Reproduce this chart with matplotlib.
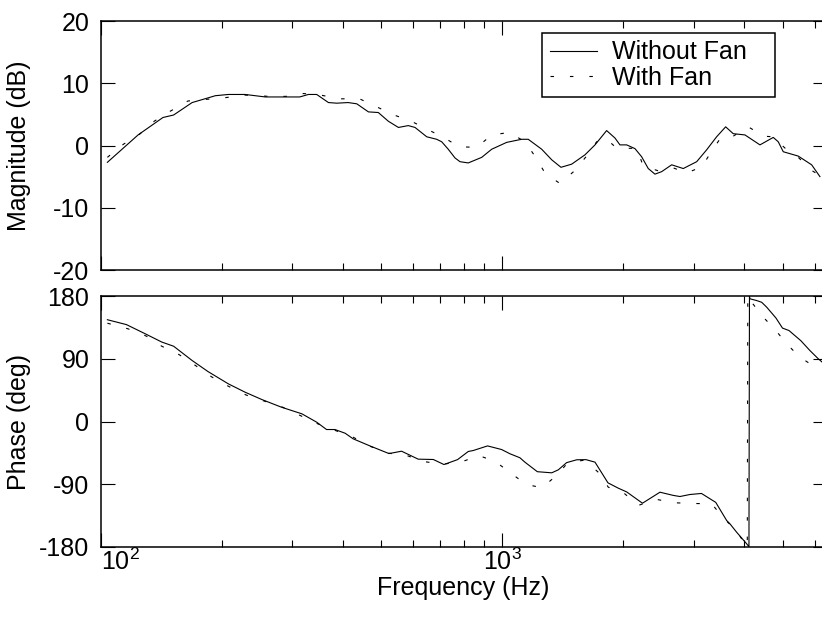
import numpy as np
import matplotlib.pyplot as plt
from matplotlib.ticker import LogLocator, NullFormatter

plt.rcParams["font.family"] = ["Liberation Sans", "DejaVu Sans"]
plt.rcParams["mathtext.fontset"] = "custom"
plt.rcParams["mathtext.rm"] = "Liberation Sans"
plt.rcParams["axes.unicode_minus"] = False
plt.rcParams["lines.scale_dashes"] = False

# --- magnitude, without fan (Hz, dB)
freq_mag_nofan = [104, 124, 143, 152, 169, 184, 193, 208, 229, 257, 280, 313, 329, 345,
                  369, 387, 413, 434, 464, 491, 520, 551, 583, 606, 648, 686, 706, 733,
                  762, 784, 822, 888, 940, 1024, 1116, 1159, 1252, 1326, 1398, 1486,
                  1604, 1699, 1816, 1905, 1960, 2037, 2136, 2219, 2305, 2395, 2489,
                  2636, 2817, 3042, 3220, 3410, 3591, 3751, 4011, 4371, 4717, 4854,
                  4995, 5443, 5877, 6163]
mag_nofan = [-2.7, 1.7, 4.5, 4.9, 6.9, 7.6, 8.0, 8.2, 8.2, 7.8, 7.8, 7.8, 8.2, 8.2,
             6.9, 6.8, 6.9, 6.7, 5.4, 5.3, 3.9, 2.9, 3.2, 2.9, 1.4, 1.0, 0.6, -0.6,
             -2.0, -2.6, -2.8, -1.9, -0.6, 0.5, 1.0, 1.0, -0.6, -2.3, -3.5, -3.0,
             -1.5, 0.1, 2.4, 1.2, 0.1, 0.1, -0.5, -1.8, -3.7, -4.6, -4.2,
             -3.1, -3.7, -2.6, -0.7, 1.4, 3.0, 1.9, 1.7, 0.1, 1.3, 0.6,
             -1.0, -1.7, -3.1, -5.0]

# --- magnitude, with fan
freq_mag_fan = [104, 114, 125, 136, 149, 165, 205, 230, 270, 290, 320, 356, 396, 441,
                487, 537, 591, 650, 716, 780, 863, 940, 1042, 1140, 1208, 1278, 1390,
                1512, 1616, 1715, 1809, 1930, 2037, 2157, 2240, 2451, 2660, 2872,
                3130, 3301, 3496, 3751, 4088, 4467, 4704, 5052, 5443, 5877, 6223]
mag_fan = [-1.9, 0.2, 1.8, 3.9, 5.5, 7.15, 7.7, 8.1, 7.85, 7.9, 8.35, 8.05, 7.5, 7.5,
           6.2, 4.9, 3.95, 2.6, 1.25, -0.2, -0.3, 1.7, 2.1, 0.55, -1.85, -4.5, -6.1,
           -4.05, -1.75, 0.6, 1.1, -0.5, -0.45, -0.45, -3.3, -4.1, -3.6, -4.4,
           -3.45, -1.1, 1.3, 1.5, 3.0, 1.5, 1.4, -0.45, -1.9, -4.0, -5.0]

# --- phase, without fan (Hz, deg)
freq_ph_nofan = [104, 116, 129, 142, 152, 169, 185, 208, 229, 252, 282, 317, 345, 365,
                 383, 406, 425, 468, 522, 561, 617, 673, 715, 773, 822, 846, 918, 995,
                 1044, 1105, 1137, 1221, 1326, 1377, 1444, 1530, 1613, 1699, 1830,
                 1941, 2037, 2230, 2465, 2660, 2764, 2927, 3126, 3393, 3612, 3680,
                 3823, 4050, 4104, 4116, 4128, 4290, 4415, 4543, 4790, 4973, 5162,
                 5523, 5819, 6104, 6233]
ph_nofan = [146, 139, 126, 114, 108, 87.5, 71.7, 54, 42, 31.5, 20.5, 11, -1, -11.5,
            -11.5, -16.8, -24.8, -35, -46, -42.6, -54, -54.5, -61.7, -54.7, -43, -41.6,
            -35, -40.2, -46.3, -52, -58.3, -72, -73.6, -69.3, -59, -54.9, -54.7, -58.3,
            -88, -95.6, -101, -117.2, -101.4, -106, -107.6, -104.7, -103.2, -116, -142,
            -146.7, -158.7, -175.4, -179.5, 179.5, 176, 173.5, 171, 164, 148.5, 134,
            130.5, 116, 101.8, 90, 85.5]

# --- phase, with fan
freq_ph_fan = [104, 117, 130, 142, 157, 173, 189, 208, 230, 284, 347, 425, 470, 520,
               578, 637, 712, 795, 873, 961, 1047, 1146, 1254, 1366, 1458, 1604, 1748,
               1833, 2006, 2177, 2409, 2660, 2983, 3314, 3542, 3806, 4011, 4065, 4077,
               4168, 4455, 4790, 5073, 5466, 5933, 6233]
ph_fan = [141, 133, 122.5, 108, 95.8, 79.6, 64, 50.6, 38.1, 20.5, -3.3, -22.5, -35.9,
          -45.4, -48.8, -57.5, -61.2, -57.5, -48.8, -57.5, -73.8, -90.3, -95, -77, -58.3,
          -55.5, -75, -94.2, -102.8, -120.4, -111.5, -116.5, -117.6, -118, -138, -156,
          -175.2, -179.5, 179.5, 171, 149.6, 130.5, 112.5, 93.4, 79.6, 78]

mag_ticks = [-20, -10, 0, 10, 20]
phase_ticks = [-180, -90, 0, 90, 180]
freq_ticks = [100, 1000]
freq_ticklabels = [r"$\mathdefault{10^{2}}$", r"$\mathdefault{10^{3}}$"]
legend_labels = ["Without Fan", "With Fan"]

FS = 18
DASH = (2.5, 11.5)
YLABEL_X = -0.096  # both y labels share one column, as in the original


def style_axes(ax):
    for sp in ax.spines.values():
        sp.set_linewidth(1.1)
    ax.set_xscale("log")
    ax.set_xticks(freq_ticks)
    ax.xaxis.set_minor_locator(LogLocator(base=10, subs=np.arange(2, 10)))
    ax.xaxis.set_minor_formatter(NullFormatter())
    ax.set_xlim(100, 6400)
    ax.tick_params(which="both", direction="in", top=True, right=True,
                   width=0.8, labelsize=FS)
    ax.tick_params(axis="y", pad=8)
    ax.tick_params(axis="x", pad=1)
    ax.tick_params(which="major", length=9.8)
    ax.tick_params(which="minor", length=5)


fig = plt.figure(figsize=(8.22, 6.18), dpi=100)
ax_mag = fig.add_axes([0.1223, 0.5631, 0.8832, 0.4029])
ax_ph = fig.add_axes([0.1223, 0.1149, 0.8832, 0.4061])

ax_mag.plot(freq_mag_nofan, mag_nofan, color="black", lw=0.8, label=legend_labels[0])
ax_mag.plot(freq_mag_fan, mag_fan, color="black", lw=0.8, linestyle=(0, DASH),
            label=legend_labels[1])
style_axes(ax_mag)
ax_mag.set_ylim(-20, 20)
ax_mag.set_yticks(mag_ticks)
ax_mag.set_yticklabels([str(t) for t in mag_ticks])
ax_mag.tick_params(axis="x", labelbottom=False)
ax_mag.set_ylabel("Magnitude (dB)", fontsize=FS)
ax_mag.yaxis.set_label_coords(YLABEL_X, 0.5)

leg = ax_mag.legend(loc="upper left", bbox_to_anchor=(0.6086, 0, 0.321, 0.952),
                    mode="expand", borderaxespad=0,
                    fontsize=FS, handlelength=1.9, handletextpad=0.6, borderpad=0.3,
                    labelspacing=0.05, fancybox=False, framealpha=1, edgecolor="black")
leg.get_frame().set_linewidth(1.1)

ax_ph.plot(freq_ph_nofan, ph_nofan, color="black", lw=0.8)
ax_ph.plot(freq_ph_fan, ph_fan, color="black", lw=0.8, linestyle=(0, DASH))
style_axes(ax_ph)
ax_ph.set_ylim(-180, 180)
ax_ph.set_yticks(phase_ticks)
ax_ph.set_yticklabels([str(t) for t in phase_ticks])
xlabels = ax_ph.set_xticklabels(freq_ticklabels)
# first decade label sits to the right of the corner, clear of the -180 label
xlabels[0].set_ha("left")
ax_ph.set_ylabel("Phase (deg)", fontsize=FS)
ax_ph.yaxis.set_label_coords(YLABEL_X, 0.5)
ax_ph.set_xlabel("Frequency (Hz)", fontsize=FS, labelpad=1)

fig.savefig("out.png", dpi=100)
